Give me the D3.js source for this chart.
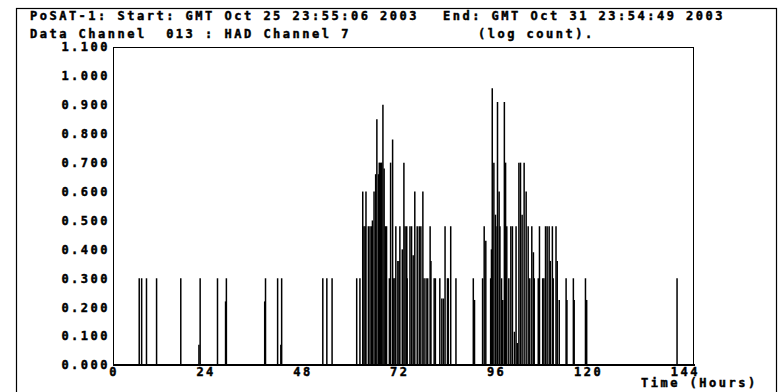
<!DOCTYPE html>
<html>
<head>
<meta charset="utf-8">
<script src="https://cdn.jsdelivr.net/npm/d3@7"></script>
<style>
  body { margin: 0; background: #fff; }
  text {
    font-family: "DejaVu Sans Mono", "Liberation Mono", monospace;
    font-weight: bold;
    font-size: 12px;
    letter-spacing: 2.5px;
    fill: #000;
    stroke: #000;
    stroke-width: 0.45px;
    white-space: pre;
  }
</style>
</head>
<body>
<svg id="chart" width="781" height="392"></svg>
<script>
// header texts
const titleStart = "PoSAT-1: Start: GMT Oct 25 23:55:06 2003";
const titleEnd = "End: GMT Oct 31 23:54:49 2003";
const channelText = "Data Channel  013 : HAD Channel 7";
const unitText = "(log count).";
const xTitle = "Time (Hours)";

const xTicks = [0, 24, 48, 72, 96, 120, 144];
const yTicks = [0, 0.1, 0.2, 0.3, 0.4, 0.5, 0.6, 0.7, 0.8, 0.9, 1.0, 1.1];

// sample times (hours since start) and log10 counts
const hours = [
  6.5, 7.1, 8.3, 10.8, 16.8, 21.3, 21.6, 25.9, 27.9, 28.1, 37.6, 37.8, 40.8, 41.6, 41.8,
  52.0, 53.0, 54.3, 60.4, 61.2,
  61.9, 62.2, 62.5, 62.7, 63.3, 63.7, 64.1, 64.3, 64.7, 65.1, 65.4, 65.8, 66.0, 66.3,
  66.6, 66.9, 67.2, 67.5, 67.8, 68.5, 68.8, 69.3, 69.6, 69.9, 70.1, 70.6, 70.9, 71.1,
  71.7, 72.1, 72.4, 72.8, 72.9, 73.6, 74.0, 74.4, 74.8, 75.4, 75.9, 76.3, 76.8, 77.1,
  77.6, 78.0, 78.6, 78.8, 79.6, 79.9, 81.0, 81.5, 81.9, 82.3, 82.9, 83.1, 83.7, 85.0,
  89.3, 89.6, 91.6, 92.0, 92.4, 93.6, 93.8, 94.0, 94.4, 94.8, 94.9, 95.3, 95.7, 95.9,
  96.3, 96.6, 97.0, 97.3, 97.6, 98.1, 98.6, 99.0, 99.5, 99.9, 100.2, 100.6, 101.0, 101.4,
  101.9, 102.4, 102.9, 103.3, 103.8, 104.2, 104.4, 105.4, 105.7, 106.5, 106.8, 107.2,
  107.6, 108.1, 108.4, 108.9, 109.1, 109.8, 110.1, 110.6, 112.3, 112.5, 114.1, 114.3,
  117.1, 117.4,
  139.8
];
const logCounts = [
  0.30, 0.30, 0.30, 0.30, 0.30, 0.07, 0.30, 0.30, 0.22, 0.30, 0.22, 0.30, 0.30, 0.07, 0.30,
  0.30, 0.30, 0.30, 0.30, 0.30,
  0.60, 0.48, 0.48, 0.60, 0.48, 0.48, 0.48, 0.50, 0.60, 0.66, 0.85, 0.66, 0.70, 0.70,
  0.70, 0.90, 0.68, 0.48, 0.48, 0.30, 0.70, 0.78, 0.30, 0.30, 0.48, 0.36, 0.36, 0.48,
  0.40, 0.70, 0.48, 0.48, 0.30, 0.48, 0.48, 0.38, 0.60, 0.48, 0.48, 0.48, 0.60, 0.30,
  0.30, 0.30, 0.48, 0.36, 0.30, 0.30, 0.30, 0.23, 0.23, 0.48, 0.30, 0.30, 0.48, 0.30,
  0.30, 0.225, 0.30, 0.48, 0.43, 0.30, 0.40, 0.957, 0.70, 0.52, 0.48, 0.91, 0.60, 0.48,
  0.30, 0.225, 0.91, 0.70, 0.48, 0.30, 0.48, 0.48, 0.115, 0.48, 0.076, 0.70, 0.70, 0.52,
  0.70, 0.60, 0.48, 0.30, 0.48, 0.39, 0.30, 0.30, 0.48, 0.30, 0.30, 0.48,
  0.48, 0.48, 0.36, 0.48, 0.30, 0.48, 0.36, 0.225, 0.30, 0.225, 0.30, 0.225,
  0.30, 0.225,
  0.30
];

const svg = d3.select("#chart");
const plot = { left: 113, top: 47, right: 694, bottom: 365 };

const x = d3.scaleLinear().domain([0, 144]).range([plot.left, plot.right]);
const y = d3.scaleLinear().domain([0, 1.1]).range([plot.bottom, plot.top]);

// outer frame
svg.append("rect")
  .attr("x", 16.5).attr("y", 8.5)
  .attr("width", 760).attr("height", 400)
  .attr("fill", "none").attr("stroke", "#000").attr("stroke-width", 1.2);

// header
svg.append("text").attr("x", 30).attr("y", 20).text(titleStart);
svg.append("text").attr("x", 443).attr("y", 20).text(titleEnd);
svg.append("text").attr("x", 30).attr("y", 38).text(channelText);
svg.append("text").attr("x", 478).attr("y", 38).text(unitText);

// bars
svg.append("g")
  .selectAll("line")
  .data(d3.zip(hours, logCounts))
  .join("line")
  .attr("x1", d => x(d[0]))
  .attr("x2", d => x(d[0]))
  .attr("y1", y(0))
  .attr("y2", d => y(d[1]))
  .attr("stroke", "#000")
  .attr("stroke-width", 1.5);

// plot box
svg.append("rect")
  .attr("x", plot.left + 0.5).attr("y", plot.top + 0.5)
  .attr("width", plot.right - plot.left - 1).attr("height", plot.bottom - plot.top - 1)
  .attr("fill", "none").attr("stroke", "#000").attr("stroke-width", 1);
svg.append("line")
  .attr("x1", plot.left).attr("x2", plot.right + 1)
  .attr("y1", plot.bottom).attr("y2", plot.bottom)
  .attr("stroke", "#000").attr("stroke-width", 2);

// y axis labels
const yAxis = svg.append("g")
  .attr("transform", `translate(${plot.left},0)`)
  .call(d3.axisLeft(y).tickValues(yTicks).tickSize(0).tickPadding(3).tickFormat(d3.format(".3f")));
yAxis.select(".domain").remove();

// x axis labels (right edge sits just past the tick)
const xAxis = svg.append("g")
  .attr("transform", `translate(0,${plot.bottom})`)
  .call(d3.axisBottom(x).tickValues(xTicks).tickSize(0).tickFormat(d3.format("d")));
xAxis.select(".domain").remove();
xAxis.selectAll("text")
  .attr("text-anchor", "end")
  .attr("dx", 5.5)
  .attr("dy", 0)
  .attr("y", 11);

svg.append("text").attr("x", 641).attr("y", 387).text(xTitle);
</script>
</body>
</html>
